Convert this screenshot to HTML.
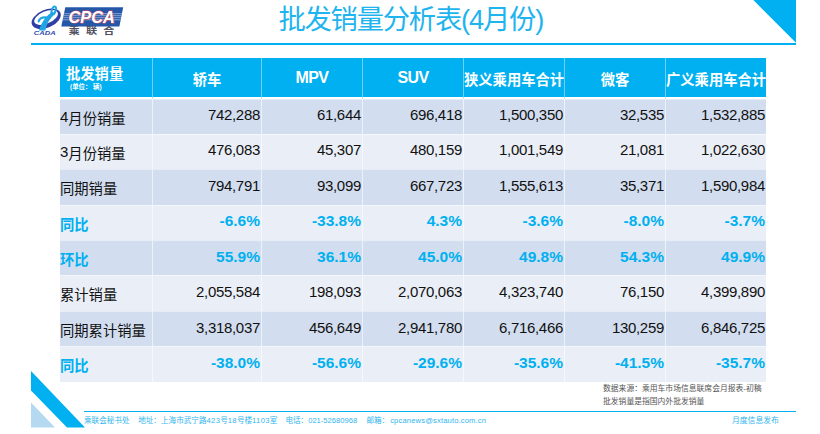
<!DOCTYPE html>
<html lang="zh-CN">
<head>
<meta charset="utf-8">
<title>批发销量分析表(4月份)</title>
<style>
html,body{margin:0;padding:0;background:#fff;}
body{width:820px;height:434px;overflow:hidden;font-family:"Liberation Sans","Noto Sans CJK SC",sans-serif;}
#slide{position:relative;width:820px;height:434px;background:#fff;overflow:hidden;}
.cj{white-space:nowrap;}
#logo{position:absolute;left:28px;top:0;width:100px;height:44px;}
#title{position:absolute;left:278.4px;top:4.6px;margin:0;font-weight:normal;font-size:27.3px;line-height:30px;color:#1fb4ee;white-space:nowrap;letter-spacing:-1.2px;}
#hline{position:absolute;left:31px;top:43px;width:765px;height:2px;background:#00b0f0;}
#tri{position:absolute;left:753px;top:0;}
#tbl{position:absolute;left:60px;top:58px;width:706px;border-collapse:separate;border-spacing:0;table-layout:fixed;font-size:14.3px;}
#tbl th,#tbl td{padding:0;margin:0;box-sizing:border-box;overflow:hidden;white-space:nowrap;}
#tbl th{background:#00b0f0;color:#fff;height:41px;border-bottom:2px solid #fff;font-weight:bold;text-align:center;vertical-align:middle;font-size:14.3px;padding-top:1px;}
#tbl th.en{font-size:16px;letter-spacing:-0.6px;padding-top:0;padding-bottom:0;}
#tbl th+th{border-left:1px solid rgba(255,255,255,.42);}
#tbl td+td{border-left:1px solid rgba(255,255,255,.6);}
#tbl th.c1{text-align:left;padding-left:6px;vertical-align:top;padding-top:0;}
#tbl th .h1{line-height:15px;margin-top:9px;}
#tbl th .h2{font-size:6.4px;line-height:8px;padding-left:4px;margin-top:0.6px;}
#tbl td{text-align:right;padding-right:1px;padding-bottom:var(--pb);font-size:15px;letter-spacing:-0.3px;color:#111;border-top:1px solid rgba(255,255,255,.45);vertical-align:middle;}
#tbl td.lab{text-align:left;padding-left:0;padding-right:0;padding-bottom:0;font-size:14.3px;letter-spacing:0;}
#tbl td.lab .n{font-size:15px;position:relative;top:-1.2px;}
#tbl tr.a td{background:#d2deef;}
#tbl tr.b td{background:#eaeff7;}
#tbl tr.k td{color:#00b0f0;font-weight:bold;font-size:15.5px;letter-spacing:0;}
#tbl tr.k td.lab{font-size:14.3px;}
#note{position:absolute;left:603px;top:383px;font-size:7.8px;line-height:12.8px;color:#555;white-space:nowrap;}
#deco{position:absolute;left:31px;top:371px;}
#fline{position:absolute;left:84px;top:411px;width:712px;height:1px;background:#00b0f0;}
#foot{position:absolute;left:84px;top:415px;font-size:7.6px;line-height:11px;color:#2fb5ee;white-space:nowrap;}
#foot>span{position:absolute;top:0;}
#foot .w1{letter-spacing:0.33px;}
#foot .w2{letter-spacing:0.15px;margin-left:1px;}
#foot .f1{left:0;}
#foot .f2{left:54.2px;}
#foot .f3{left:201.4px;}
#foot .f4{left:282.4px;}
#pub{position:absolute;left:732px;top:415px;font-size:7.8px;line-height:11px;color:#2fb5ee;white-space:nowrap;}

</style>
</head>
<body>
<div id="slide">
  <div id="logo"><svg width="100" height="44" viewBox="0 0 100 44" aria-hidden="false">
<g transform="translate(18.2,18.8) rotate(-23)">
<path fill-rule="evenodd" fill="#2f3fa6" d="M-15.4,0 A15.4,9 0 1,0 15.4,0 A15.4,9 0 1,0 -15.4,0 Z M-12.2,-1.3 A12.6,6.1 0 1,1 13,-1.3 A12.6,6.1 0 1,1 -12.2,-1.3 Z"/>
</g>
<path fill="#1fa5e4" d="M23.6,12.4 C21.4,13.6 19.4,15.4 17.6,17.6 C15.4,20.4 13.4,24 12,27.2 L10.9,30.5 L17.4,30.5 C17.8,28.6 18.6,25.6 20,22.6 C21.6,19.2 24.6,16 27.6,13.2 Z"/>
<g transform="translate(25.7,10.4) rotate(20)"><path fill="#1fa5e4" fill-rule="evenodd" d="M-2.9,0 A2.9,5 0 1,0 2.9,0 A2.9,5 0 1,0 -2.9,0 Z M-0.9,-0.4 A0.9,2.7 0 1,1 0.9,-0.4 A0.9,2.7 0 1,1 -0.9,-0.4 Z"/></g>
<path fill="none" stroke="#1fa5e4" stroke-width="2.2" stroke-linecap="round" d="M10.6,21.4 C11.4,18.6 14.6,16.6 18.6,17.6"/>
<text x="5.8" y="34.7" font-family="Liberation Sans, sans-serif" font-weight="bold" font-style="italic" font-size="4.9" fill="#2f49b0" textLength="21.8" lengthAdjust="spacingAndGlyphs">CADA</text>
<polygon points="37.3,7.2 95.2,7.2 91.4,26.4 33.3,26.4" fill="#2457a8"/>
<g stroke="#c9d6ec" stroke-width="0.6"><path d="M36,13.7H94M35.6,15.7H93.6M35.2,17.7H93.2M34.8,19.8H92.8"/></g>
<text x="40.6" y="23.2" font-family="Liberation Sans, sans-serif" font-weight="bold" font-style="italic" font-size="17" fill="#fff" stroke="#e24a5c" stroke-width="0.9" paint-order="stroke" textLength="46.2" lengthAdjust="spacingAndGlyphs">CPCA</text>
<g fill="#50505f" transform="translate(40.6,34.4) scale(1,0.82)"><text x="0" y="0" font-family="Liberation Sans, Noto Sans CJK SC, sans-serif" font-weight="bold" font-size="11.2" letter-spacing="6.1">乘联合</text></g>
</svg>
</div>
  <h1 id="title"><span class="cj">批发销量分析表(4月份)</span></h1>
  <div id="hline"></div>
  <svg id="tri" width="43" height="43" viewBox="0 0 43 43" aria-hidden="true"><polygon points="0.3,0 43,0 43,42.7" fill="#00b0f0"/></svg>
  <table id="tbl">
    <colgroup><col style="width:92px"><col style="width:109px"><col style="width:101px"><col style="width:101px"><col style="width:101px"><col style="width:101px"><col style="width:101px"></colgroup>
    <thead><tr class="hd"><th class="c1"><div class="h1"><span class="cj">批发销量</span></div><div class="h2">(<span class="cj">单位：</span> <span class="cj">辆</span>)</div></th><th class="c2"><span class="cj">轿车</span></th><th class="c3 en">MPV</th><th class="c4 en">SUV</th><th class="c5"><span class="cj">狭义乘用车合计</span></th><th class="c6"><span class="cj">微客</span></th><th class="c7"><span class="cj">广义乘用车合计</span></th></tr></thead>
    <tbody><tr class="a" style="height:35px;--pb:6px"><td class="lab"><span class="n">4</span><span class="cj">月份销量</span></td><td>742,288</td><td>61,644</td><td>696,418</td><td>1,500,350</td><td>32,535</td><td>1,532,885</td></tr><tr class="b" style="height:35px;--pb:6px"><td class="lab"><span class="n">3</span><span class="cj">月份销量</span></td><td>476,083</td><td>45,307</td><td>480,159</td><td>1,001,549</td><td>21,081</td><td>1,022,630</td></tr><tr class="a" style="height:36px;--pb:4px"><td class="lab"><span class="cj">同期销量</span></td><td>794,791</td><td>93,099</td><td>667,723</td><td>1,555,613</td><td>35,371</td><td>1,590,984</td></tr><tr class="b k" style="height:35px;--pb:4px"><td class="lab"><span class="cj">同比</span></td><td>-6.6%</td><td>-33.8%</td><td>4.3%</td><td>-3.6%</td><td>-8.0%</td><td>-3.7%</td></tr><tr class="a k" style="height:35px;--pb:2px"><td class="lab"><span class="cj">环比</span></td><td>55.9%</td><td>36.1%</td><td>45.0%</td><td>49.8%</td><td>54.3%</td><td>49.9%</td></tr><tr class="b" style="height:36px;--pb:4px"><td class="lab"><span class="cj">累计销量</span></td><td>2,055,584</td><td>198,093</td><td>2,070,063</td><td>4,323,740</td><td>76,150</td><td>4,399,890</td></tr><tr class="a" style="height:35px;--pb:4px"><td class="lab"><span class="cj">同期累计销量</span></td><td>3,318,037</td><td>456,649</td><td>2,941,780</td><td>6,716,466</td><td>130,259</td><td>6,846,725</td></tr><tr class="b k" style="height:36px;--pb:4px"><td class="lab"><span class="cj">同比</span></td><td>-38.0%</td><td>-56.6%</td><td>-29.6%</td><td>-35.6%</td><td>-41.5%</td><td>-35.7%</td></tr></tbody>
  </table>
  <div id="note"><div><span class="cj">数据来源：乘用车市场信息联席会月报表</span>-<span class="cj">初稿</span></div><div><span class="cj">批发销量是指国内外批发销量</span></div></div>
  <svg id="deco" width="60" height="60" viewBox="0 0 60 60"><polygon points="0,0 54,56.5 36,56.5 0,19.5" fill="#00b0f0"/><polygon points="0,31.5 24,56.5 0,56.5" fill="#b5d9f1"/></svg>
  <div id="fline"></div>
  <div id="foot"><span class="f1"><span class="cj">乘联会秘书处</span></span><span class="f2"><span class="cj">地址：上海市武宁路</span><span class="w1">423</span><span class="cj">号</span><span class="w1">18</span><span class="cj">号楼</span><span class="w1">1103</span><span class="cj">室</span></span><span class="f3"><span class="cj">电话：</span>021-52680968</span><span class="f4"><span class="cj">邮箱：</span><span class="w2">cpcanews@sxtauto.com.cn</span></span></div>
  <div id="pub"><span class="cj">月度信息发布</span></div>
</div>
</body>
</html>
